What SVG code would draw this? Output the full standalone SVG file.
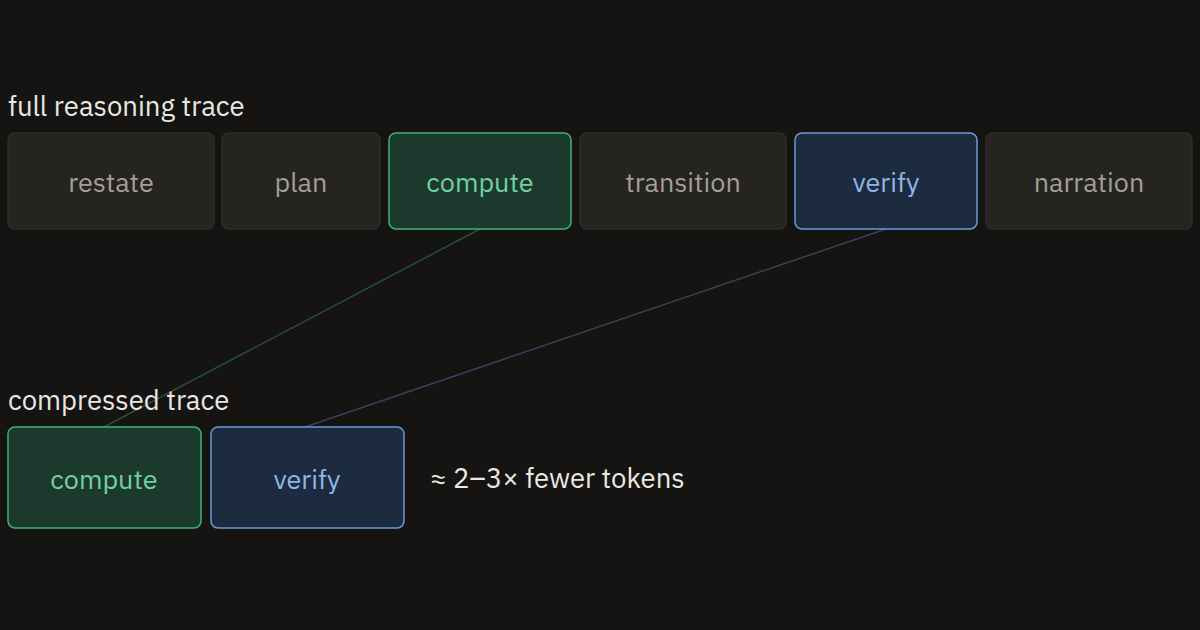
<svg xmlns="http://www.w3.org/2000/svg" width="1200" height="630" viewBox="0 0 1200 630">
<style>
.bg{fill:#151413}
.n rect{stroke-width:1.5}
.grey rect{fill:#252421;stroke:#2f2d2a}
.grey text{fill:#a39e97}
.green rect{fill:#1b3a2d;stroke:#37b57c}
.green text{fill:#74cfa3}
.blue rect{fill:#1c2b3f;stroke:#6a9bd6}
.blue text{fill:#8db6e6}
.n text{font-family:"IBM Plex Sans",Inter,"Noto Sans",sans-serif;font-size:27px;text-anchor:middle;dominant-baseline:central}
.lbl{font-family:"IBM Plex Sans",Inter,"Noto Sans",sans-serif;font-size:27.5px;fill:#ebe8e3}
</style>
<rect class="bg" width="1200" height="630"/>
<g id="connectors" fill="none" stroke-width="1.5">
<line x1="480" y1="229" x2="104" y2="427" stroke="#24503a"/>
<line x1="886" y1="229" x2="305" y2="427" stroke="#33445a"/>
</g>
<text class="lbl" x="8" y="116">full reasoning trace</text>
<text class="lbl" x="8" y="410">compressed trace</text>
<g id="n-restate" class="n grey"><rect x="8" y="133" width="206" height="96" rx="7"/><text x="111" y="181">restate</text></g>
<g id="n-plan" class="n grey"><rect x="222" y="133" width="158" height="96" rx="7"/><text x="301" y="181">plan</text></g>
<g id="n-compute" class="n green"><rect x="389" y="133" width="182" height="96" rx="7"/><text x="480" y="181">compute</text></g>
<g id="n-transition" class="n grey"><rect x="580" y="133" width="206" height="96" rx="7"/><text x="683" y="181">transition</text></g>
<g id="n-verify" class="n blue"><rect x="795" y="133" width="182" height="96" rx="7"/><text x="886" y="181">verify</text></g>
<g id="n-narration" class="n grey"><rect x="986" y="133" width="206" height="96" rx="7"/><text x="1089" y="181">narration</text></g>
<g id="c-compute" class="n green"><rect x="8" y="427" width="193" height="101" rx="7"/><text x="104" y="478">compute</text></g>
<g id="c-verify" class="n blue"><rect x="211" y="427" width="193" height="101" rx="7"/><text x="307" y="478">verify</text></g>
<text class="lbl" x="430" y="488">≈ 2–3× fewer tokens</text>
</svg>
